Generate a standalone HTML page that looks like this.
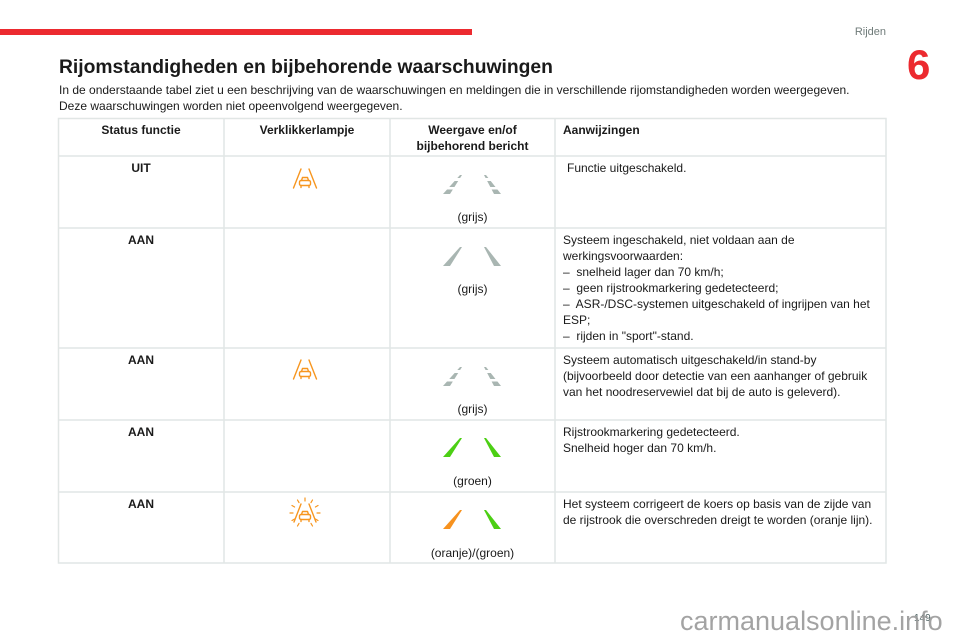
<!DOCTYPE html>
<html><head><meta charset="utf-8"><style>
html,body{margin:0;padding:0;background:#fff;}
body{width:960px;height:640px;position:relative;overflow:hidden;font-family:"Liberation Sans",Arial,sans-serif;color:#1a1a1a;}
.a{position:absolute;white-space:nowrap;}
.t{font-size:12px;line-height:16px;}
.b{font-weight:bold;}
.c{text-align:center;}
</style></head><body>
<div class="a" style="left:0;top:29px;width:472px;height:6px;background:#ec2a2f;"></div>
<div class="a" style="left:820px;top:25px;width:66px;text-align:right;font-size:11px;line-height:14px;color:#6f7b79;">Rijden</div>
<div class="a b" style="left:907px;top:44px;font-size:42px;line-height:42px;color:#ec2a2f;">6</div>

<div class="a b" style="left:59px;top:57px;font-size:19.3px;line-height:22px;color:#1a1a1a;">Rijomstandigheden en bijbehorende waarschuwingen</div>
<div class="a t" style="left:59px;top:82px;">In de onderstaande tabel ziet u een beschrijving van de waarschuwingen en meldingen die in verschillende rijomstandigheden worden weergegeven.<br>Deze waarschuwingen worden niet opeenvolgend weergegeven.</div>

<svg class="a" style="left:0;top:0" width="960" height="640" viewBox="0 0 960 640">
<g stroke="#e1e6e5" stroke-width="1.5" fill="none">
<rect x="58.5" y="118.5" width="827.5" height="444.5"/>
<line x1="58" y1="156" x2="886" y2="156"/>
<line x1="58" y1="228" x2="886" y2="228"/>
<line x1="58" y1="348" x2="886" y2="348"/>
<line x1="58" y1="420" x2="886" y2="420"/>
<line x1="58" y1="492" x2="886" y2="492"/>
<line x1="224" y1="118" x2="224" y2="563"/>
<line x1="390" y1="118" x2="390" y2="563"/>
<line x1="555" y1="118" x2="555" y2="563"/>
</g>
<defs>
<clipPath id="dash"><rect x="0" y="0" width="960" height="3"/><rect x="0" y="6" width="960" height="6"/><rect x="0" y="14.5" width="960" height="5"/></clipPath>
</defs>
<!-- row1 dashed grey -->
<g transform="translate(0,175)"><g clip-path="url(#dash)" fill="#a9b6b2">
<polygon points="460,0 462,0 450,19 443,19"/><polygon points="484,0 486,0 501,19 494,19"/></g></g>
<!-- row2 solid grey -->
<g transform="translate(0,247)" fill="#a9b6b2">
<polygon points="460,0 462,0 450,19 443,19"/><polygon points="484,0 486,0 501,19 494,19"/></g>
<!-- row3 dashed grey -->
<g transform="translate(0,367)"><g clip-path="url(#dash)" fill="#a9b6b2">
<polygon points="460,0 462,0 450,19 443,19"/><polygon points="484,0 486,0 501,19 494,19"/></g></g>
<!-- row4 green -->
<g transform="translate(0,438)" fill="#4ccf14">
<polygon points="460,0 462,0 450,19 443,19"/><polygon points="484,0 486,0 501,19 494,19"/></g>
<!-- row5 orange/green -->
<g transform="translate(0,510)">
<polygon fill="#f7921e" points="460,0 462,0 450,19 443,19"/><polygon fill="#4ccf14" points="484,0 486,0 501,19 494,19"/></g>

<!-- orange icons -->
<g stroke="#f7961f" stroke-width="1.4" fill="none" stroke-linecap="round" stroke-linejoin="round">
<g transform="translate(305,169)">
<line x1="-4" y1="0" x2="-11.5" y2="19"/><line x1="4" y1="0" x2="11.5" y2="19"/>
<path d="M-3.5,11.5 L-2.5,8.5 L2.5,8.5 L3.5,11.5"/>
<rect x="-5.5" y="11.5" width="11" height="5" rx="1.5"/>
<line x1="-4" y1="16.5" x2="-4" y2="18.5"/><line x1="4" y1="16.5" x2="4" y2="18.5"/>
</g>
<g transform="translate(305,360)">
<line x1="-4" y1="0" x2="-11.5" y2="19"/><line x1="4" y1="0" x2="11.5" y2="19"/>
<path d="M-3.5,11.5 L-2.5,8.5 L2.5,8.5 L3.5,11.5"/>
<rect x="-5.5" y="11.5" width="11" height="5" rx="1.5"/>
<line x1="-4" y1="16.5" x2="-4" y2="18.5"/><line x1="4" y1="16.5" x2="4" y2="18.5"/>
</g>
<g transform="translate(305,503)">
<line x1="-4" y1="1" x2="-11" y2="19"/><line x1="4" y1="1" x2="11" y2="19"/>
<path d="M-3.5,11.5 L-2.5,8.5 L2.5,8.5 L3.5,11.5"/>
<rect x="-5.5" y="11.5" width="11" height="5" rx="1.5"/>
<line x1="-4" y1="16.5" x2="-4" y2="18.5"/><line x1="4" y1="16.5" x2="4" y2="18.5"/>
</g>
<g transform="translate(305,513)" stroke-width="1.2">
<line x1="0" y1="-12" x2="0" y2="-15"/>
<line x1="6" y1="-10.4" x2="7.5" y2="-13"/><line x1="-6" y1="-10.4" x2="-7.5" y2="-13"/>
<line x1="10.4" y1="-6" x2="13" y2="-7.5"/><line x1="-10.4" y1="-6" x2="-13" y2="-7.5"/>
<line x1="12" y1="0" x2="15" y2="0"/><line x1="-12" y1="0" x2="-15" y2="0"/>
<line x1="10.4" y1="6" x2="13" y2="7.5"/><line x1="-10.4" y1="6" x2="-13" y2="7.5"/>
<line x1="6" y1="10.4" x2="7.5" y2="13"/><line x1="-6" y1="10.4" x2="-7.5" y2="13"/>
</g>
</g>
</svg>

<!-- header -->
<div class="a t b c" style="left:58px;width:166px;top:122px;">Status functie</div>
<div class="a t b c" style="left:224px;width:166px;top:122px;">Verklikkerlampje</div>
<div class="a t b c" style="left:390px;width:165px;top:122px;">Weergave en/of<br>bijbehorend bericht</div>
<div class="a t b" style="left:563px;top:122px;">Aanwijzingen</div>

<!-- row1 -->
<div class="a t b c" style="left:58px;width:166px;top:160px;">UIT</div>
<div class="a t c" style="left:390px;width:165px;top:209px;">(grijs)</div>
<div class="a t" style="left:567px;top:160px;">Functie uitgeschakeld.</div>

<!-- row2 -->
<div class="a t b c" style="left:58px;width:166px;top:232px;">AAN</div>
<div class="a t c" style="left:390px;width:165px;top:281px;">(grijs)</div>
<div class="a t" style="left:563px;top:232px;">Systeem ingeschakeld, niet voldaan aan de<br>werkingsvoorwaarden:<br>–&nbsp; snelheid lager dan 70 km/h;<br>–&nbsp; geen rijstrookmarkering gedetecteerd;<br>–&nbsp; ASR-/DSC-systemen uitgeschakeld of ingrijpen van het<br>ESP;<br>–&nbsp; rijden in "sport"-stand.</div>

<!-- row3 -->
<div class="a t b c" style="left:58px;width:166px;top:352px;">AAN</div>
<div class="a t c" style="left:390px;width:165px;top:401px;">(grijs)</div>
<div class="a t" style="left:563px;top:352px;">Systeem automatisch uitgeschakeld/in stand-by<br>(bijvoorbeeld door detectie van een aanhanger of gebruik<br>van het noodreservewiel dat bij de auto is geleverd).</div>

<!-- row4 -->
<div class="a t b c" style="left:58px;width:166px;top:424px;">AAN</div>
<div class="a t c" style="left:390px;width:165px;top:473px;">(groen)</div>
<div class="a t" style="left:563px;top:424px;">Rijstrookmarkering gedetecteerd.<br>Snelheid hoger dan 70 km/h.</div>

<!-- row5 -->
<div class="a t b c" style="left:58px;width:166px;top:496px;">AAN</div>
<div class="a t c" style="left:390px;width:165px;top:545px;">(oranje)/(groen)</div>
<div class="a t" style="left:563px;top:496px;">Het systeem corrigeert de koers op basis van de zijde van<br>de rijstrook die overschreden dreigt te worden (oranje lijn).</div>

<!-- footer -->
<div class="a" style="left:914px;top:613px;font-size:10px;line-height:12px;color:#4e6262;">149</div>
<div class="a" style="left:680px;top:608px;font-size:27px;line-height:27px;color:#9a9a9a;opacity:0.9;">carmanualsonline.info</div>
</body></html>
